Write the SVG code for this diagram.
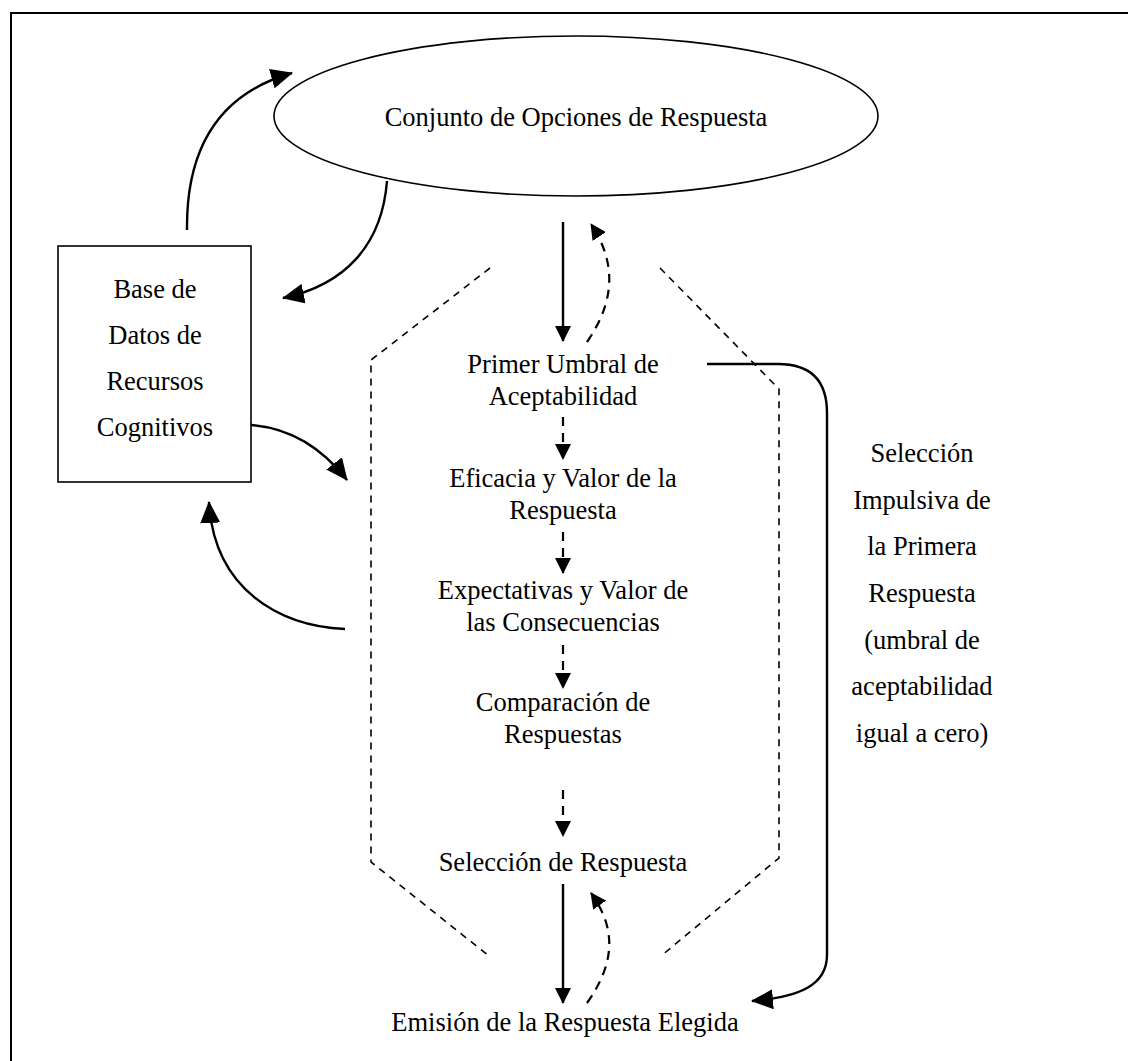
<svg xmlns="http://www.w3.org/2000/svg" width="1128" height="1061" viewBox="0 0 1128 1061">
  <style>
    text { font-family: "Liberation Serif", "Times New Roman", serif; font-size: 26.5px; fill: #000; text-anchor: middle; }
    .shape { fill: none; stroke: #000; stroke-width: 1.6; }
    .frame { fill: none; stroke: #000; stroke-width: 2; }
    .hex { fill: none; stroke: #000; stroke-width: 1.6; stroke-dasharray: 7 6; }
    .solid { fill: none; stroke: #000; stroke-width: 2.4; }
    .dashed { fill: none; stroke: #000; stroke-width: 2.2; stroke-dasharray: 9 7; }
    .arrow { marker-end: url(#head); }
    .arrow-s { marker-end: url(#head-s); }
  </style>
  <defs>
    <marker id="head" viewBox="0 0 22 20" refX="21" refY="10" markerWidth="22" markerHeight="20" markerUnits="userSpaceOnUse" orient="auto">
      <path d="M0,0 L22,10 L0,20 z" fill="#000"/>
    </marker>
    <marker id="head-s" viewBox="0 0 16 16" refX="15" refY="8" markerWidth="16" markerHeight="16" markerUnits="userSpaceOnUse" orient="auto">
      <path d="M0,0 L16,8 L0,16 z" fill="#000"/>
    </marker>
  </defs>

  <rect width="1128" height="1061" fill="#fff"/>
  <!-- page frame, running off the right and bottom edges -->
  <rect class="frame" x="11" y="13" width="1200" height="1200"/>

  <!-- dashed hexagonal enclosure of the evaluation stages -->
  <path class="hex" d="M490,268 L371,360 L371,862 L489,956"/>
  <path class="hex" d="M660,268 L779,389 L779,858 L661,956"/>

  <g id="options">
    <ellipse class="shape" cx="576" cy="116" rx="302" ry="80"/>
    <text x="576" y="126">Conjunto de Opciones de Respuesta</text>
  </g>

  <g id="database">
    <rect class="shape" x="58" y="246" width="193" height="236"/>
    <text x="155" y="298">Base de</text>
    <text x="155" y="344">Datos de</text>
    <text x="155" y="390">Recursos</text>
    <text x="155" y="436">Cognitivos</text>
  </g>

  <g id="threshold">
    <text x="563" y="373">Primer Umbral de</text>
    <text x="563" y="405">Aceptabilidad</text>
  </g>

  <g id="efficacy">
    <text x="563" y="487">Eficacia y Valor de la</text>
    <text x="563" y="519">Respuesta</text>
  </g>

  <g id="expectations">
    <text x="563" y="599">Expectativas y Valor de</text>
    <text x="563" y="631">las Consecuencias</text>
  </g>

  <g id="comparison">
    <text x="563" y="711">Comparación de</text>
    <text x="563" y="743">Respuestas</text>
  </g>

  <g id="selection">
    <text x="563" y="871">Selección de Respuesta</text>
  </g>

  <g id="emission">
    <text x="565" y="1031">Emisión de la Respuesta Elegida</text>
  </g>

  <g id="impulsive">
    <text x="922" y="462">Selección</text>
    <text x="922" y="509">Impulsiva de</text>
    <text x="922" y="555">la Primera</text>
    <text x="922" y="602">Respuesta</text>
    <text x="922" y="649">(umbral de</text>
    <text x="922" y="695">aceptabilidad</text>
    <text x="922" y="742">igual a cero)</text>
  </g>

  <g id="connectors">
    <!-- database <-> option set -->
    <path class="solid arrow" d="M187,230 C186,140 225,92 292,73"/>
    <path class="solid arrow" d="M387,181 C382,245 345,285 283,298"/>
    <!-- database <-> evaluation stages -->
    <path class="solid arrow" d="M251,425 C290,428 322,448 347,480"/>
    <path class="solid arrow" d="M345,629 C280,626 214,590 209,502"/>
    <!-- option set -> threshold and feedback -->
    <path class="solid arrow-s" d="M563,222 V341"/>
    <path class="dashed arrow-s" d="M587,342 C616,300 616,262 591,224"/>
    <!-- stage to stage -->
    <path class="dashed arrow-s" d="M563,417 V459"/>
    <path class="dashed arrow-s" d="M563,532 V573"/>
    <path class="dashed arrow-s" d="M563,645 V688"/>
    <path class="dashed arrow-s" d="M563,790 V836"/>
    <!-- selection -> emission and feedback -->
    <path class="solid arrow-s" d="M563,884 V1003"/>
    <path class="dashed arrow-s" d="M587,1003 C616,962 616,928 591,893"/>
    <!-- impulsive shortcut -->
    <path class="solid arrow" d="M707,364 H778 Q827,364 827,413 V955 C827,985 800,997 752,1001"/>
  </g>
</svg>
